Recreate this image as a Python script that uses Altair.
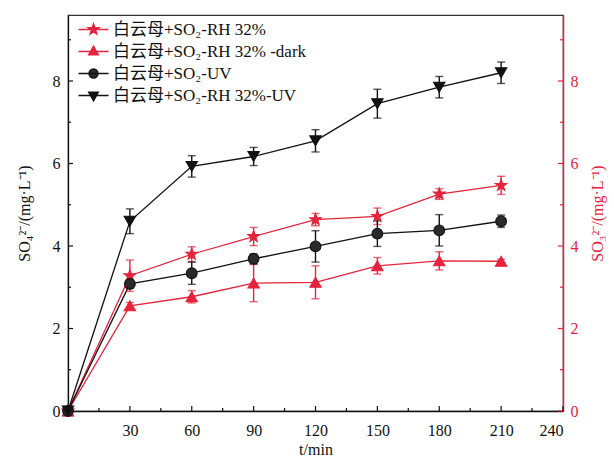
import altair as alt
import pandas as pd

# ---------------- data ----------------
times = [0, 30, 60, 90, 120, 150, 180, 210]
series_names = ["白云母+SO₂-RH 32%", "白云母+SO₂-RH 32% -dark", "白云母+SO₂-UV", "白云母+SO₂-RH 32%-UV"]

rh32 = [0, 3.28, 3.80, 4.23, 4.64, 4.72, 5.26, 5.47]
rh32_err = [0, 0.38, 0.18, 0.22, 0.15, 0.20, 0.13, 0.22]
dark = [0, 2.55, 2.77, 3.10, 3.12, 3.52, 3.64, 3.63]
dark_err = [0, 0.08, 0.15, 0.45, 0.40, 0.20, 0.22, 0.05]
uv = [0, 3.08, 3.34, 3.69, 3.99, 4.30, 4.38, 4.60]
uv_err = [0, 0.10, 0.27, 0.12, 0.38, 0.31, 0.38, 0.15]
rhuv = [0, 4.60, 5.93, 6.17, 6.55, 7.45, 7.85, 8.20]
rhuv_err = [0, 0.30, 0.26, 0.22, 0.27, 0.35, 0.26, 0.26]

x_major = [0, 30, 60, 90, 120, 150, 180, 210, 240]
x_minor = [15, 45, 75, 105, 135, 165, 195, 225]
x_labels = [30, 60, 90, 120, 150, 180, 210, 240]
y_major = [0, 2, 4, 6, 8]
y_minor = [1, 3, 5, 7, 9]

RED = "#e5233c"
BLACK = "#111111"
fills = [RED, RED, "#2a2a2a", BLACK]
strokes = [RED, RED, BLACK, BLACK]

W, H = 495, 396
FONT = "Liberation Serif, Noto Sans CJK SC"

star = ("M0,-1L0.235,-0.324L0.951,-0.309L0.380,0.124L0.588,0.809L0,0.4"
        "L-0.588,0.809L-0.380,0.124L-0.951,-0.309L-0.235,-0.324Z")
data_shapes = [star, "triangle-up", "circle", "triangle-down"]
data_sizes = [150, 130, 115, 130]

leg_star = ("M-2.5,0H2.5M0,-0.95L0.22,-0.31L0.90,-0.29L0.36,0.12L0.56,0.77L0,0.38"
            "L-0.56,0.77L-0.36,0.12L-0.90,-0.29L-0.22,-0.31Z")
leg_tri_up = "M-2.5,0H2.5M0,-0.9L0.8,0.55L-0.8,0.55Z"
leg_circle = "M-2.5,0H2.5M-0.75,0A0.75,0.75 0 1,0 0.75,0A0.75,0.75 0 1,0 -0.75,0Z"
leg_tri_down = "M-2.5,0H2.5M0,0.9L0.8,-0.55L-0.8,-0.55Z"
legend_shapes = [leg_star, leg_tri_up, leg_circle, leg_tri_down]

all_vals = [rh32, dark, uv, rhuv]
all_errs = [rh32_err, dark_err, uv_err, rhuv_err]

rows = []
for name, vals, errs in zip(series_names, all_vals, all_errs):
    for t, v, e in zip(times, vals, errs):
        rows.append({"t": t, "v": v, "err": e, "lo": v - e, "hi": v + e, "series": name, "key": name})
df = pd.DataFrame(rows)

xmaj = pd.DataFrame({"p": x_major})
xmin = pd.DataFrame({"p": x_minor})
ymaj = pd.DataFrame({"p": y_major})
ymin = pd.DataFrame({"p": y_minor})

xscale = alt.Scale(domain=[0, 240], nice=False, zero=False)
yscale = alt.Scale(domain=[0, 9.6], nice=False, zero=False)

x_axis = alt.Axis(values=x_labels, ticks=False, grid=False, domainColor=BLACK, domainWidth=1.3,
                  labelFont=FONT, labelFontSize=16, labelColor=BLACK, labelPadding=11,
                  title="t/min", titleFont=FONT, titleFontSize=16, titleFontWeight="normal",
                  titleColor=BLACK, titlePadding=3)


def XQ(field):
    return alt.X(field, scale=xscale, axis=x_axis)


def YQ(field):
    return alt.Y(field, scale=yscale, axis=None)


layers = []

# inward ticks with axes
left_axis = alt.Axis(values=y_major, ticks=False, grid=False, domainColor=BLACK, domainWidth=1.3,
                     labelFont=FONT, labelFontSize=16, labelColor=BLACK, labelPadding=8,
                     title="SO₄²⁻/(mg·L⁻¹)", titleFont=FONT, titleFontSize=16,
                     titleFontWeight="normal", titleColor=BLACK, titlePadding=20)
right_axis = alt.Axis(orient="right", values=y_major, ticks=False, grid=False, domainColor=RED,
                      domainWidth=1.5, labelFont=FONT, labelFontSize=16, labelColor=RED,
                      labelPadding=7, title="SO₃²⁻/(mg·L⁻¹)", titleFont=FONT, titleFontSize=16,
                      titleFontWeight="normal", titleColor=RED, titlePadding=11, titleAngle=270,
                      titleBaseline="top")

layers.append(alt.Chart(ymaj).mark_rule(color=BLACK, strokeWidth=1.2).encode(
    y=alt.Y("p:Q", scale=yscale, axis=left_axis), x=alt.value(0), x2=alt.value(5)))
layers.append(alt.Chart(ymin).mark_rule(color=BLACK, strokeWidth=1.2).encode(
    y=alt.Y("p:Q", scale=yscale, axis=None), x=alt.value(0), x2=alt.value(3)))
layers.append(alt.Chart(ymaj).mark_rule(color=RED, strokeWidth=1.2).encode(
    y=alt.Y("p:Q", scale=yscale, axis=right_axis), x=alt.value(W), x2=alt.value(W - 5)))
layers.append(alt.Chart(ymin).mark_rule(color=RED, strokeWidth=1.2).encode(
    y=alt.Y("p:Q", scale=yscale, axis=None), x=alt.value(W), x2=alt.value(W - 3)))
layers.append(alt.Chart(xmaj).mark_rule(color=BLACK, strokeWidth=1.2).encode(
    x=XQ("p:Q"), y=alt.value(H), y2=alt.value(H - 5)))
layers.append(alt.Chart(xmin).mark_rule(color=BLACK, strokeWidth=1.2).encode(
    x=XQ("p:Q"), y=alt.value(H), y2=alt.value(H - 3)))

# series lines
for i, name in enumerate(series_names):
    d = df[df["series"] == name]
    layers.append(alt.Chart(d).mark_line(color=strokes[i], strokeWidth=1.3).encode(
        x=XQ("t:Q"), y=YQ("v:Q")))

# error bars
for i, name in enumerate(series_names):
    d = df[(df["series"] == name) & (df["err"] > 0)]
    layers.append(alt.Chart(d).mark_rule(color=strokes[i], strokeWidth=1.4).encode(
        x=XQ("t:Q"), y=YQ("lo:Q"), y2="hi:Q"))
    layers.append(alt.Chart(d).mark_tick(orient="horizontal", size=8, thickness=1.4,
                                         color=strokes[i]).encode(x=XQ("t:Q"), y=YQ("lo:Q")))
    layers.append(alt.Chart(d).mark_tick(orient="horizontal", size=8, thickness=1.4,
                                         color=strokes[i]).encode(x=XQ("t:Q"), y=YQ("hi:Q")))

# markers
for i, name in enumerate(series_names):
    d = df[df["series"] == name]
    layers.append(alt.Chart(d).mark_point(
        shape=data_shapes[i], size=data_sizes[i], filled=True, fill=fills[i],
        stroke=strokes[i], strokeWidth=1.1, opacity=1).encode(x=XQ("t:Q"), y=YQ("v:Q")))

# legend (invisible points, visible legend)
leg = alt.Legend(title=None, orient="none", legendX=17, legendY=6, padding=0,
                 symbolSize=144, symbolStrokeWidth=1.4, symbolOpacity=1,
                 labelFont=FONT, labelFontSize=17, labelColor=BLACK, labelOffset=11,
                 rowPadding=4, labelLimit=400)
layers.append(alt.Chart(df).mark_point(filled=True, opacity=0).encode(
    x=XQ("t:Q"), y=YQ("v:Q"),
    shape=alt.Shape("key:N", scale=alt.Scale(domain=series_names, range=legend_shapes), legend=leg),
    fill=alt.Fill("key:N", scale=alt.Scale(domain=series_names, range=fills), legend=leg),
    stroke=alt.Stroke("key:N", scale=alt.Scale(domain=series_names, range=strokes), legend=leg),
))

chart = alt.layer(*layers).resolve_scale(
    y="independent"
).properties(
    width=W, height=H,
    autosize=alt.AutoSizeParams(type="none"),
    padding={"left": 68, "top": 15, "right": 51, "bottom": 45},
    background="white",
).configure_view(
    stroke="#333333", strokeWidth=1.2
)

chart.save("out.html", embed_options={"renderer": "svg", "actions": False})
